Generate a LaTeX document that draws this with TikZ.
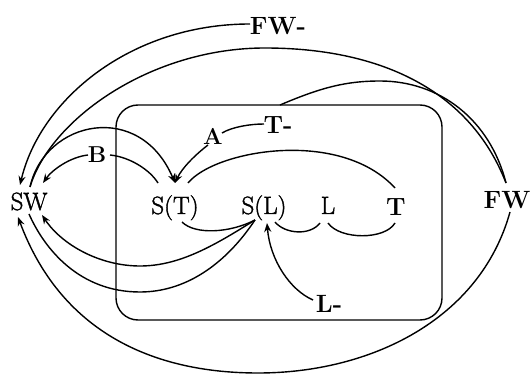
\documentclass[tikz,border=0pt]{standalone}
\usepackage{fontspec}
\usetikzlibrary{arrows.meta}
\newfontfamily\medfam{Latin Modern Roman}[FakeBold=1.6]
\begin{document}
\begin{tikzpicture}[x=1pt,y=-1pt,
 txt/.style={font=\medfam\fontsize{25}{28}\selectfont, inner sep=0pt, anchor=base},
 btxt/.style={font=\fontsize{25}{28}\selectfont\bfseries, inner sep=0pt, anchor=base},
 stxt/.style={font=\fontsize{23}{26}\selectfont\bfseries, inner sep=0pt, anchor=base},
 con/.style={line width=1.4pt},
 arr/.style={con, -{Stealth[length=9pt,width=7pt]}}]
\useasboundingbox (0,0) rectangle (530,374);
\draw[con, rounded corners=22pt] (116,105) rectangle (442,320);
\node[txt] (SW) at (29,210) {SW};
\node[txt] (ST) at (175,214) {S(T)};
\node[txt] (SL) at (264,214) {S(L)};
\node[txt] (L) at (328,214) {L};
\node[btxt] (T) at (396,215) {T};
\node[btxt] (FW) at (507,208) {FW};
\node[btxt] (FWm) at (278,35) {FW-};
\node[btxt] (Tm) at (278,134) {T-};
\node[btxt] (Lm) at (329,312) {L-};
\node[stxt] (A) at (213,145) {A};
\node[stxt] (B) at (97,163) {B};
\coordinate (rt) at (280,105);
% FW- to SW
\draw[arr] ([shift={(-28,-11)}]FWm.base) .. controls (130,24) and (40,100) .. ([shift={(-9,-25)}]SW.base);
% SW to FW (upper)
\draw[con] ([shift={(1,-23)}]SW.base) .. controls (50,120) and (150,48) .. (265,48) .. controls (380,48) and (470,90) .. ([shift={(-1,-25)}]FW.base);
% box top to FW
\draw[con] (rt) .. controls (320,88) and (345,81) .. (380,81) .. controls (440,81) and (490,120) .. ([shift={(-1,-25)}]FW.base);
% SW to S(T) arc
\draw[arr] ([shift={(1,-23)}]SW.base) .. controls (45,120) and (140,100) .. ([shift={(0,-31)}]ST.base);
% B
\draw[arr] ([shift={(-9,-8)}]B.base) .. controls (70,157) and (52,170) .. ([shift={(14,-27)}]SW.base);
\draw[con] ([shift={(13,-8)}]B.base) .. controls (130,157) and (150,170) .. ([shift={(-17,-31)}]ST.base);
% T- A S(T)
\draw[con] ([shift={(-14,-10)}]Tm.base) .. controls (250,124) and (232,127) .. ([shift={(9,-12)}]A.base);
\draw[arr] ([shift={(-5,0)}]A.base) .. controls (195,155) and (182,168) .. ([shift={(0,-31)}]ST.base);
% S(T) to T arc
\draw[con] ([shift={(13,-31)}]ST.base) .. controls (215,150) and (340,128) .. ([shift={(-1,-27)}]T.base);
% S(T) to S(L)
\draw[con] ([shift={(7,8)}]ST.base) .. controls (195,235) and (230,233) .. ([shift={(-9,6)}]SL.base);
% S(L) to SW
\draw[arr] ([shift={(-9,6)}]SL.base) .. controls (215,245) and (180,266) .. (140,266) .. controls (100,266) and (62,245) .. ([shift={(13,5)}]SW.base);
\draw[con] ([shift={(-9,6)}]SL.base) .. controls (225,265) and (185,292) .. (140,292) .. controls (80,292) and (45,250) .. ([shift={(0,4)}]SW.base);
% FW to SW bottom arc
\draw[arr] ([shift={(3,4)}]FW.base) .. controls (480,320) and (370,373) .. (258,373) .. controls (150,373) and (60,330) .. ([shift={(-11,7)}]SW.base);
% L- to S(L)
\draw[arr] ([shift={(-16,-12)}]Lm.base) .. controls (290,290) and (270,260) .. ([shift={(3,9)}]SL.base);
% S(L) - L - T
\draw[con] ([shift={(11,8)}]SL.base) .. controls (285,234) and (310,236) .. ([shift={(-8,9)}]L.base);
\draw[con] ([shift={(0,9)}]L.base) .. controls (340,240) and (385,240) .. ([shift={(-1,8)}]T.base);
\end{tikzpicture}
\end{document}
